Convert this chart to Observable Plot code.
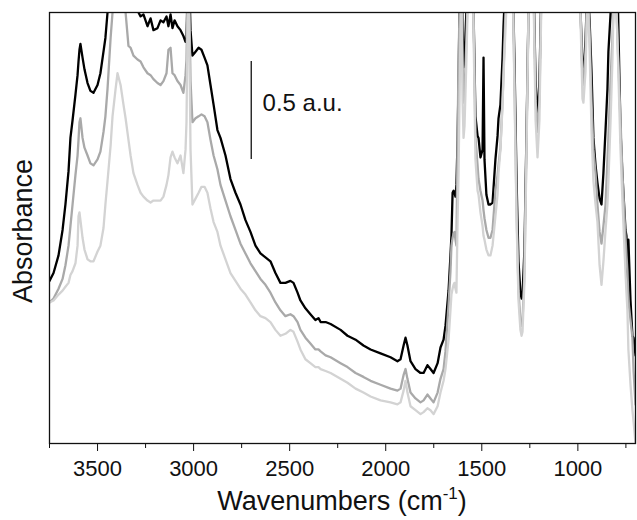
<!DOCTYPE html>
<html>
<head>
<meta charset="utf-8">
<script src="https://cdn.jsdelivr.net/npm/d3@7"></script>
<script src="https://cdn.jsdelivr.net/npm/@observablehq/plot@0.6"></script>
<style>
  html, body { margin: 0; padding: 0; background: #fff; }
  #chart svg { display: block; }
</style>
</head>
<body>
<div id="chart"></div>
<script>
// Wavenumbers (cm^-1)
const wavenumber = [3750,3729,3703,3682,3667,3651,3641,3630,3615,3604,3599,3594,3589,3578,3568,3552,3537,3521,3500,3485,3469,3459,3448,3432,3422,3406,3396,3380,3365,3354,3339,3328,3313,3292,3276,3261,3240,3224,3209,3188,3172,3157,3141,3131,3120,3110,3099,3084,3068,3053,3042,3037,3027,3016,3006,2990,2974,2959,2943,2928,2912,2896,2876,2860,2834,2808,2782,2756,2730,2704,2678,2652,2626,2600,2574,2548,2522,2496,2480,2459,2444,2418,2392,2366,2350,2339,2313,2287,2235,2199,2157,2116,2079,2027,1975,1939,1923,1907,1897,1887,1871,1845,1819,1803,1783,1767,1751,1730,1715,1699,1689,1673,1663,1658,1652,1647,1642,1637,1632,1626,1621,1616,1611,1606,1600,1595,1590,1580,1569,1559,1548,1543,1533,1522,1517,1507,1496,1491,1486,1476,1465,1455,1444,1429,1418,1413,1403,1392,1387,1377,1366,1351,1340,1330,1319,1309,1299,1293,1288,1278,1267,1257,1247,1231,1220,1210,1200,1189,1179,1090,997,986,976,971,960,950,939,929,919,908,898,887,877,867,856,846,841,830,820,815,804,794,778,768,752,747,742,737,726,716,710,700];

// Absorbance (a.u.) of the three spectra (black, dark grey, light grey)
const spectrumBlack = [0.83,0.87,0.96,1.09,1.22,1.39,1.56,1.65,1.78,1.88,1.95,2.01,2.04,1.97,1.91,1.84,1.80,1.79,1.83,1.89,2.00,2.07,2.20,2.36,2.47,2.52,2.52,2.52,2.47,2.42,2.36,2.31,2.29,2.21,2.18,2.19,2.13,2.17,2.11,2.12,2.16,2.15,2.18,2.13,2.19,2.12,2.16,2.13,2.11,2.08,2.05,2.06,2.52,2.11,1.98,2.00,2.02,2.01,1.97,1.93,1.83,1.73,1.60,1.56,1.47,1.35,1.28,1.22,1.14,1.08,1.01,0.97,0.95,0.93,0.87,0.82,0.82,0.83,0.82,0.77,0.73,0.69,0.66,0.63,0.64,0.62,0.62,0.61,0.58,0.55,0.53,0.50,0.48,0.46,0.44,0.42,0.43,0.50,0.54,0.50,0.42,0.38,0.36,0.36,0.40,0.38,0.36,0.41,0.49,0.53,0.60,0.78,0.96,1.06,1.28,1.29,1.28,1.26,1.32,1.55,1.85,2.20,2.47,2.47,2.11,1.92,1.96,2.21,2.47,2.52,2.47,2.21,1.67,1.57,1.56,1.46,1.50,1.97,1.45,1.27,1.22,1.22,1.23,1.45,1.57,1.66,1.73,1.97,2.13,2.36,2.52,2.52,2.42,1.96,1.34,0.93,0.77,0.74,0.76,0.99,1.60,2.21,2.52,2.36,1.85,1.65,1.85,2.36,2.57,2.60,2.57,2.21,1.90,1.88,2.06,2.36,2.16,1.90,1.56,1.42,1.33,1.25,1.22,1.38,1.60,1.81,2.00,2.19,2.42,2.52,2.52,2.36,1.60,1.37,1.09,1.06,0.82,1.04,0.73,0.55,0.54,0.45];

const spectrumDarkGrey = [0.72,0.74,0.79,0.84,0.91,1.01,1.11,1.22,1.37,1.47,1.55,1.64,1.66,1.56,1.51,1.47,1.43,1.42,1.45,1.49,1.59,1.67,1.81,2.07,2.20,2.36,2.36,2.36,2.31,2.20,2.03,2.02,1.98,1.96,1.95,1.92,1.89,1.88,1.86,1.84,1.83,1.85,1.89,2.01,2.02,1.89,1.88,1.85,1.83,1.79,1.88,1.96,2.52,1.85,1.64,1.66,1.67,1.68,1.67,1.64,1.55,1.47,1.40,1.32,1.24,1.16,1.09,1.02,0.97,0.92,0.88,0.84,0.81,0.77,0.72,0.68,0.65,0.66,0.65,0.62,0.58,0.54,0.51,0.48,0.48,0.47,0.45,0.44,0.41,0.39,0.36,0.34,0.32,0.30,0.28,0.27,0.28,0.35,0.38,0.33,0.26,0.23,0.21,0.22,0.25,0.23,0.21,0.26,0.33,0.38,0.47,0.71,0.88,1.01,1.05,1.07,1.08,1.04,1.01,1.56,1.96,2.20,2.47,2.47,1.96,1.74,1.78,2.06,2.47,2.52,2.47,2.20,1.56,1.42,1.35,1.29,1.24,1.19,1.15,1.09,1.05,1.05,1.09,1.29,1.37,1.42,1.51,1.75,1.89,2.20,2.42,2.52,2.42,1.85,1.19,0.78,0.63,0.60,0.62,0.88,1.55,2.20,2.52,2.36,1.75,1.59,1.75,2.36,2.57,2.60,2.57,2.21,1.85,1.83,2.01,2.36,2.11,1.75,1.50,1.38,1.22,1.08,1.02,1.11,1.22,1.45,1.56,1.85,2.07,2.21,2.36,2.07,1.65,1.38,1.05,0.96,0.88,0.73,0.63,0.54,0.37,0.20];

const spectrumLightGrey = [0.72,0.73,0.76,0.78,0.80,0.82,0.86,0.88,0.92,1.01,1.16,1.18,1.14,1.05,0.99,0.94,0.93,0.93,0.98,1.01,1.10,1.22,1.34,1.52,1.67,1.81,1.89,1.83,1.73,1.66,1.55,1.47,1.38,1.32,1.28,1.26,1.24,1.23,1.24,1.24,1.24,1.26,1.32,1.37,1.46,1.49,1.46,1.43,1.47,1.38,1.50,1.64,2.52,1.50,1.22,1.25,1.28,1.31,1.31,1.28,1.20,1.13,1.08,1.01,0.94,0.87,0.83,0.79,0.76,0.72,0.68,0.65,0.64,0.62,0.58,0.55,0.56,0.58,0.57,0.52,0.48,0.43,0.41,0.39,0.39,0.38,0.37,0.36,0.33,0.31,0.28,0.26,0.24,0.22,0.21,0.20,0.21,0.27,0.32,0.26,0.19,0.17,0.15,0.16,0.18,0.17,0.15,0.19,0.26,0.32,0.38,0.53,0.68,0.76,0.79,0.81,0.82,0.79,0.77,1.14,1.38,1.75,2.11,2.26,1.75,1.56,1.62,1.96,2.42,2.52,2.42,2.11,1.45,1.29,1.27,1.18,1.11,1.06,1.04,0.99,0.96,0.96,1.01,1.16,1.27,1.38,1.50,1.73,1.88,2.11,2.36,2.52,2.42,1.80,1.14,0.73,0.58,0.55,0.57,0.83,1.50,2.19,2.52,2.31,1.65,1.46,1.65,2.31,2.57,2.60,2.57,2.16,1.76,1.74,1.90,2.31,2.01,1.60,1.34,1.22,1.13,0.91,0.81,0.93,1.09,1.22,1.34,1.64,1.96,2.19,2.36,2.06,1.50,1.24,0.87,0.77,0.68,0.48,0.30,0.17,0.11,0.00];

const seriesNames = ["black", "darkgrey", "lightgrey"];
const seriesColors = ["#000000", "#6e6e6e", "#bababa"];
const majorTicks = [3500, 3000, 2500, 2000, 1500, 1000];
const minorTicks = [3750, 3250, 2750, 2250, 1750, 1250, 750];
const xDomain = [3750, 700];
const yDomain = [0, 2.2];
const scaleBarX = [2700];
const scaleBarY = [1.45, 1.95];
const scaleBarLabel = ["0.5 a.u."];
const scaleLabelX = [2641];
const scaleLabelY = [1.735];

const series = [spectrumBlack, spectrumDarkGrey, spectrumLightGrey];
const rows = [];
series.forEach((vals, s) => {
  vals.forEach((v, i) => rows.push({wn: wavenumber[i], a: v, series: seriesNames[s]}));
});

const font = "'Liberation Sans', Arial, Helvetica, sans-serif";

const chart = Plot.plot({
  width: 637,
  height: 520,
  marginLeft: 49,
  marginRight: 2,
  marginTop: 12,
  marginBottom: 77,
  style: {fontFamily: font, fontSize: "22px", color: "#111", background: "#fff", overflow: "visible"},
  x: {domain: xDomain},
  y: {domain: yDomain, axis: null},
  color: {domain: seriesNames, range: seriesColors},
  marks: [
    Plot.line(rows, {x: "wn", y: "a", z: "series", stroke: "series", strokeWidth: 2.3, clip: true, strokeLinejoin: "round"}),
    Plot.frame({stroke: "#111", strokeWidth: 1.3}),
    Plot.axisX(majorTicks, {tickSize: 8, tickPadding: 9, tickFormat: d3.format("d"), label: null, fontSize: 22, stroke: "#111"}),
    Plot.axisX(minorTicks, {tickSize: 5, tickFormat: () => "", label: null, stroke: "#111"}),
    Plot.ruleX(scaleBarX, {y1: scaleBarY[0], y2: scaleBarY[1], stroke: "#111", strokeWidth: 1.3}),
    Plot.text(scaleBarLabel, {x: scaleLabelX, y: scaleLabelY, textAnchor: "start", fontSize: 24, fill: "#111"})
  ]
});

const svg = d3.select(chart);
const xs = chart.scale("x");
const cx = (xs.range[0] + xs.range[1]) / 2;
const xt = svg.append("text")
  .attr("x", cx).attr("y", 510)
  .attr("text-anchor", "middle")
  .attr("font-family", font).attr("font-size", 27).attr("fill", "#111");
xt.append("tspan").text("Wavenumbers (cm");
xt.append("tspan").attr("dy", -11).attr("font-size", 17).text("-1");
xt.append("tspan").attr("dy", 11).text(")");

svg.append("text")
  .attr("transform", "translate(32,231) rotate(-90)")
  .attr("text-anchor", "middle")
  .attr("font-family", font).attr("font-size", 27).attr("fill", "#111")
  .text("Absorbance");

document.getElementById("chart").appendChild(chart);
</script>
</body>
</html>
